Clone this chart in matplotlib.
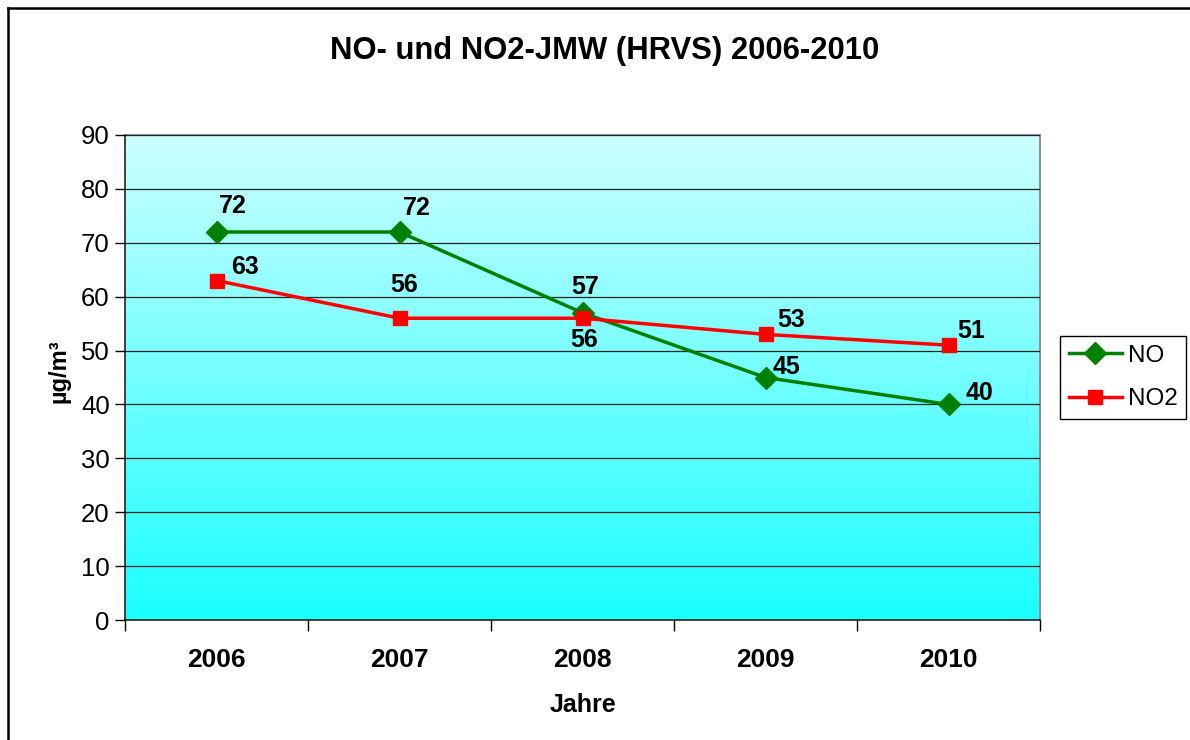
import numpy as np
import matplotlib
matplotlib.use("Agg")
from matplotlib import pyplot as plt
from matplotlib.lines import Line2D
from matplotlib.colors import LinearSegmentedColormap

plt.rcParams['font.family'] = ['Liberation Sans', 'DejaVu Sans']

# data
years = ['2006', '2007', '2008', '2009', '2010']
no_values = [72, 72, 57, 45, 40]
no2_values = [63, 56, 56, 53, 51]

# label offsets in pixels (dx, dy) relative to the marker
no_offsets = [(16, 26), (17, 24), (3, 26), (21, 11), (31, 11)]
no2_offsets = [(29, 13), (5, 33), (2, -22), (26, 14), (23, 14)]

fig = plt.figure(figsize=(11.9, 7.4), dpi=100)
ax = fig.add_axes([125/1190, 1 - 620/740, (1040 - 125)/1190, (620 - 135)/740])

# gradient background of the plot area
grad = LinearSegmentedColormap.from_list('cy', ['#1affff', '#ccffff'])
ax.imshow(np.linspace(0, 1, 256).reshape(-1, 1), cmap=grad, origin='lower',
          aspect='auto', extent=(0, 1, 0, 1), transform=ax.transAxes, zorder=0)

x = np.arange(len(years))
ax.plot(x, no_values, color='#008000', lw=2.5, marker='D', ms=11,
        label='NO', zorder=3)
ax.plot(x, no2_values, color='#ff0000', lw=2.5, marker='s', ms=10,
        label='NO2', zorder=4)

for xi, v, (dx, dy) in zip(x, no_values, no_offsets):
    ax.annotate(str(v), (xi, v), xytext=(dx, dy), textcoords='offset pixels',
                ha='center', va='center', fontsize=18, fontweight='bold', zorder=5)
for xi, v, (dx, dy) in zip(x, no2_values, no2_offsets):
    ax.annotate(str(v), (xi, v), xytext=(dx, dy), textcoords='offset pixels',
                ha='center', va='center', fontsize=18, fontweight='bold', zorder=5)

ax.set_xlim(-0.5, len(years) - 0.5)
ax.set_ylim(0, 90)
ax.set_yticks(range(0, 91, 10))
ax.yaxis.grid(True, color='#222222', lw=0.9)
ax.set_axisbelow(False)
ax.tick_params(axis='y', labelsize=18.5, length=7, width=1, pad=4)

ax.set_xticks(np.arange(-0.5, len(years), 1))
ax.set_xticklabels([])
ax.set_xticks(x, minor=True)
ax.set_xticklabels(years, minor=True, fontsize=19, fontweight='bold')
ax.tick_params(axis='x', which='major', length=8, width=1)
ax.tick_params(axis='x', which='minor', length=0, pad=20)

for s in ['top', 'right']:
    ax.spines[s].set_color('#909090')
    ax.spines[s].set_linewidth(1.5)
for s in ['left', 'bottom']:
    ax.spines[s].set_color('#222222')
    ax.spines[s].set_linewidth(1.2)

ax.set_xlabel('Jahre', fontsize=18, fontweight='bold', labelpad=15)
ax.set_ylabel('µg/m³', fontsize=17, fontweight='bold', labelpad=12)
ax.yaxis.set_label_coords(-55/915, 0.5 + 6/485)

fig.suptitle('NO- und NO2-JMW (HRVS) 2006-2010', x=605/1190, y=1 - 51/740,
             va='center', fontsize=22.3, fontweight='bold')

leg = fig.legend(loc='upper left', bbox_to_anchor=(1060/1190, 1 - 336/740),
                 borderaxespad=0, fontsize=17.5, fancybox=False, framealpha=1,
                 edgecolor='black', handlelength=2.2, handletextpad=0.25,
                 borderpad=0.35, labelspacing=0.9)
leg.get_frame().set_linewidth(1)

# outer chart border (top and left visible)
fig.add_artist(Line2D([8/1190, 1], [1 - 8/740, 1 - 8/740], color='black', lw=1.8))
fig.add_artist(Line2D([8/1190, 8/1190], [0, 1 - 8/740], color='black', lw=1.8))

fig.savefig('out.png', dpi=100)
